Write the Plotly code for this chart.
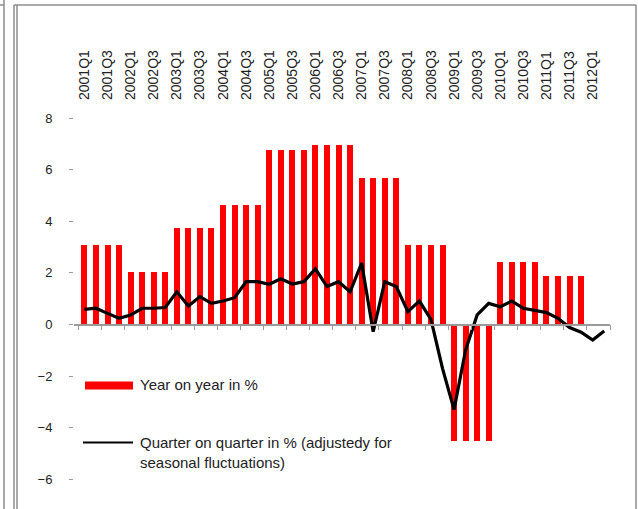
import plotly.graph_objects as go

quarters = [
    "2001Q1", "2001Q2", "2001Q3", "2001Q4", "2002Q1", "2002Q2", "2002Q3", "2002Q4",
    "2003Q1", "2003Q2", "2003Q3", "2003Q4", "2004Q1", "2004Q2", "2004Q3", "2004Q4",
    "2005Q1", "2005Q2", "2005Q3", "2005Q4", "2006Q1", "2006Q2", "2006Q3", "2006Q4",
    "2007Q1", "2007Q2", "2007Q3", "2007Q4", "2008Q1", "2008Q2", "2008Q3", "2008Q4",
    "2009Q1", "2009Q2", "2009Q3", "2009Q4", "2010Q1", "2010Q2", "2010Q3", "2010Q4",
    "2011Q1", "2011Q2", "2011Q3", "2011Q4", "2012Q1", "2012Q2",
]
tick_labels = quarters[::2]

# year on year, same value for every quarter of a year
yoy = [
    3.1, 3.1, 3.1, 3.1, 2.05, 2.05, 2.05, 2.05,
    3.75, 3.75, 3.75, 3.75, 4.63, 4.63, 4.63, 4.63,
    6.78, 6.78, 6.78, 6.78, 6.97, 6.97, 6.97, 6.97,
    5.68, 5.68, 5.68, 5.68, 3.1, 3.1, 3.1, 3.1,
    -4.5, -4.5, -4.5, -4.5, 2.44, 2.44, 2.44, 2.44,
    1.9, 1.9, 1.9, 1.9, None, None,
]

# quarter on quarter, seasonally adjusted
qoq = [
    0.59, 0.63, 0.43, 0.24, 0.37, 0.63, 0.63, 0.66,
    1.27, 0.72, 1.08, 0.82, 0.91, 1.04, 1.66, 1.66,
    1.56, 1.77, 1.57, 1.66, 2.16, 1.47, 1.66, 1.27,
    2.38, -0.28, 1.66, 1.47, 0.5, 0.91, 0.2, -1.7,
    -3.3, -0.99, 0.37, 0.82, 0.69, 0.91, 0.63, 0.56,
    0.46, 0.24, -0.12, -0.3, -0.6, -0.25,
]

W, H = 638, 509
ML, MR, MT, MB = 74, 28, 105, 14
PW, PH = W - ML - MR, H - MT - MB
Y_RANGE = [-6.61, 8.51]
X_RANGE = [-0.9, 45.5]
FONT = "Liberation Sans, Arial, sans-serif"


def px(x):
    return (x - ML) / PW


def py(y):
    return (H - MB - y) / PH


fig = go.Figure()
fig.add_trace(go.Bar(
    x=quarters, y=yoy, xaxis="x", yaxis="y",
    marker=dict(color="#ff0000", line=dict(width=0)),
    width=0.52, name="Year on year in %", showlegend=False,
))
fig.add_trace(go.Scatter(
    x=quarters, y=qoq, xaxis="x2", yaxis="y", mode="lines",
    line=dict(color="#000000", width=3.2),
    name="Quarter on quarter in %", showlegend=False,
))

zero_pos = (0 - Y_RANGE[0]) / (Y_RANGE[1] - Y_RANGE[0])

fig.update_layout(
    width=W, height=H,
    margin=dict(l=ML, r=MR, t=MT, b=MB, autoexpand=False),
    paper_bgcolor="white", plot_bgcolor="white",
    font=dict(family=FONT, color="#222222"),
    bargap=0,
    xaxis=dict(
        type="category", categoryorder="array", categoryarray=quarters,
        range=X_RANGE, side="top", tickangle=-90, automargin=False,
        tickvals=tick_labels, ticktext=tick_labels,
        ticks="", showline=False, showgrid=False, zeroline=False,
        tickfont=dict(size=14, color="#222222"), ticklabelstandoff=4,
    ),
    xaxis2=dict(
        type="category", categoryorder="array", categoryarray=quarters,
        range=X_RANGE, overlaying="x", anchor="free", position=zero_pos,
        side="bottom", showticklabels=False, showgrid=False, zeroline=False,
        showline=True, linecolor="#9a9a9a", linewidth=1.5, automargin=False,
        ticks="outside", ticklen=5, tickcolor="#9a9a9a", tickwidth=1,
        tickson="boundaries",
    ),
    yaxis=dict(
        range=Y_RANGE, tickvals=[-6, -4, -2, 0, 2, 4, 6, 8], automargin=False,
        showgrid=False, zeroline=False, showline=False,
        ticks="outside", ticklen=4, tickcolor="#9a9a9a",
        tickfont=dict(size=13, color="#222222"), ticklabelstandoff=14,
    ),
)

# legend drawn by hand (wide swatches like the original)
shapes = [
    dict(type="rect", xref="paper", yref="paper",
         x0=px(85), x1=px(133), y0=py(389.5), y1=py(381.5),
         fillcolor="#ff0000", line=dict(width=0)),
    dict(type="line", xref="paper", yref="paper",
         x0=px(83), x1=px(133), y0=py(442.5), y1=py(442.5),
         line=dict(color="#000000", width=2)),
]
# frame lines
frame = "#8c8c8c"
for x0, y0, x1, y1 in [
    (4, 0, 4, H), (0, 5, 4, 5),
    (14, 5, 14, H), (17, 5, 17, H), (14, 5, 636, 5), (636, 5, 636, H),
]:
    shapes.append(dict(type="line", xref="paper", yref="paper",
                       x0=px(x0), x1=px(x1), y0=py(y0), y1=py(y1),
                       line=dict(color=frame, width=1.5)))
fig.update_layout(shapes=shapes)

fig.add_annotation(
    xref="paper", yref="paper", x=px(138), y=py(384.5),
    xanchor="left", yanchor="middle", showarrow=False,
    text="Year on year in %", font=dict(size=15, color="#222222"),
)
fig.add_annotation(
    xref="paper", yref="paper", x=px(138), y=py(432),
    xanchor="left", yanchor="top", showarrow=False, align="left",
    text="Quarter on quarter in % (adjustedy for<br>seasonal fluctuations)",
    font=dict(size=15, color="#222222"),
)

# page body has an 8px default margin; drop it so the chart sits at 0,0
fig.write_html(
    "out.html",
    config={"displayModeBar": False},
    post_script="document.body.style.margin='0';document.body.style.overflow='hidden';",
)
